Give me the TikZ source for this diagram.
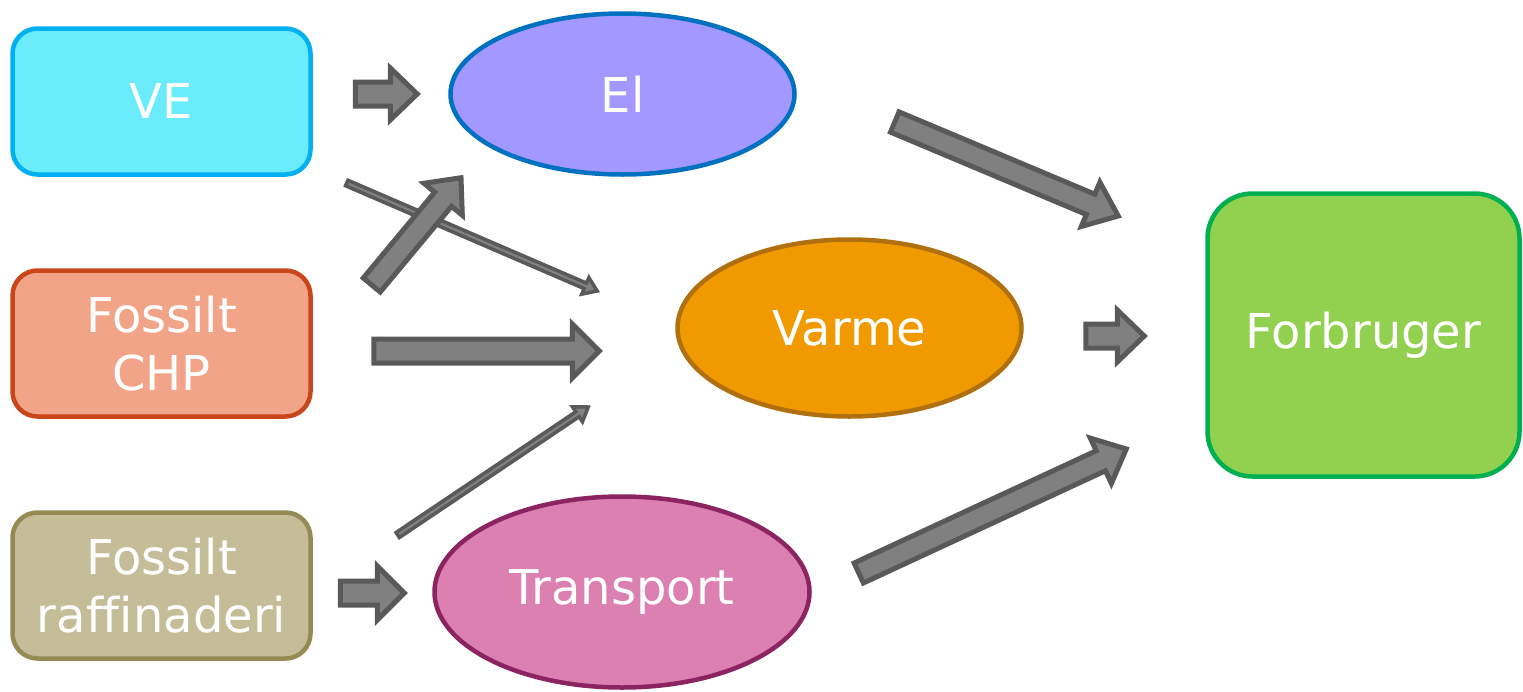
\documentclass[tikz,border=0pt]{standalone}
\usepackage{fontspec}
\setmainfont[Ligatures=NoCommon]{DejaVu Sans}
\usetikzlibrary{shapes.geometric,calc}
\definecolor{vefill}{HTML}{6BECFD}
\definecolor{veline}{HTML}{00B0F0}
\definecolor{chpfill}{HTML}{F2A489}
\definecolor{chpline}{HTML}{C9461B}
\definecolor{rafffill}{HTML}{C4BD97}
\definecolor{raffline}{HTML}{948A54}
\definecolor{elfill}{HTML}{A298FF}
\definecolor{elline}{HTML}{0070C0}
\definecolor{varmefill}{HTML}{F19A00}
\definecolor{varmeline}{HTML}{B07010}
\definecolor{transpfill}{HTML}{DC80B2}
\definecolor{transpline}{HTML}{8B2461}
\definecolor{forbfill}{HTML}{92D050}
\definecolor{forbline}{HTML}{00B050}
\definecolor{arrowfill}{HTML}{808080}
\definecolor{arrowline}{HTML}{595959}
\tikzset{
  box/.style={draw, rounded corners=25pt, line width=4.5pt, text=white,
    font=\fontsize{48}{58}\selectfont, align=center, inner sep=0pt},
  oval/.style={ellipse, draw, line width=4.5pt, text=white,
    font=\fontsize{48}{58}\selectfont, inner sep=0pt},
  fatarrow/.style={fill=arrowfill, draw=arrowline, line width=5pt, line join=miter},
  thinarrow/.style={fill=arrowfill, draw=arrowline, line width=3.5pt, line join=miter}
}
% block arrow: [style]{from}{to}{half shaft}{half head}{head length}
\newcommand\blockarrow[6][fatarrow]{%
  \draw[#1] let \p1=(#2), \p2=(#3), \n1={atan2(\y2-\y1,\x2-\x1)},
      \n2={veclen(\x2-\x1,\y2-\y1)} in
    ($(\p1)+(\n1+90:#4)$) -- ++(\n1:\n2-#6) -- ++(\n1+90:#5-#4) -- (\p2)
    -- ($(\p1)+(\n1:\n2-#6)+(\n1-90:#5)$) -- ++(\n1+90:#5-#4)
    -- ($(\p1)+(\n1-90:#4)$) -- cycle;}

\begin{document}
\begin{tikzpicture}[x=1pt,y=1pt]
\useasboundingbox (0,0) rectangle (1523,-691);

\node[box, fill=vefill, draw=veline, minimum width=298, minimum height=146] (ve) at (161.5,-101.5) {VE};
\node[box, fill=chpfill, draw=chpline, minimum width=298, minimum height=146] (chp) at (161.5,-343.5) {Fossilt\\CHP};
\node[box, fill=rafffill, draw=raffline, minimum width=298, minimum height=146] (raff) at (161.5,-585.5) {Fossilt\\raffinaderi};

\node[oval, fill=elfill, draw=elline, minimum width=344, minimum height=161] (el) at (622.5,-94) {El};
\node[oval, fill=varmefill, draw=varmeline, minimum width=344, minimum height=177] (varme) at (849.5,-328) {Varme};
\node[oval, fill=transpfill, draw=transpline, minimum width=375, minimum height=191] (transport) at (622,-592) {Transport};

\node[box, fill=forbfill, draw=forbline, rounded corners=45pt, minimum width=312, minimum height=283] (forb) at (1363.5,-335) {Forbruger};

% arrows
\blockarrow{$(el.west)+(-93,0)$}{$(el.west)+(-31,0)$}{12}{26}{27}
\blockarrow[thinarrow]{$(ve.east)+(34,-81.5)$}{$(varme.west)+(-78,37)$}{3}{9}{13}
\blockarrow{$(chp.east)+(59,58.5)$}{$(el.south)+(-161.5,-1)$}{11}{25}{28}
\blockarrow{$(chp.east)+(61,-7.5)$}{$(varme.west)+(-76,-23)$}{12}{27}{27}
\blockarrow[thinarrow]{$(raff.east)+(85,50.5)$}{$(varme.west)+(-87,-79)$}{3}{9}{13}
\blockarrow{$(transport.west)+(-92,-1)$}{$(transport.west)+(-28,-1)$}{12}{27}{27}
\blockarrow{$(el.east)+(98,-28)$}{$(forb.west)+(-87,119)$}{11}{24}{30}
\blockarrow{$(varme.east)+(62,-8)$}{$(forb.west)+(-61,-1)$}{12}{26}{27}
\blockarrow{$(transport.east)+(47,19)$}{$(forb.west)+(-79,-114)$}{11}{25}{28}
\end{tikzpicture}
\end{document}
